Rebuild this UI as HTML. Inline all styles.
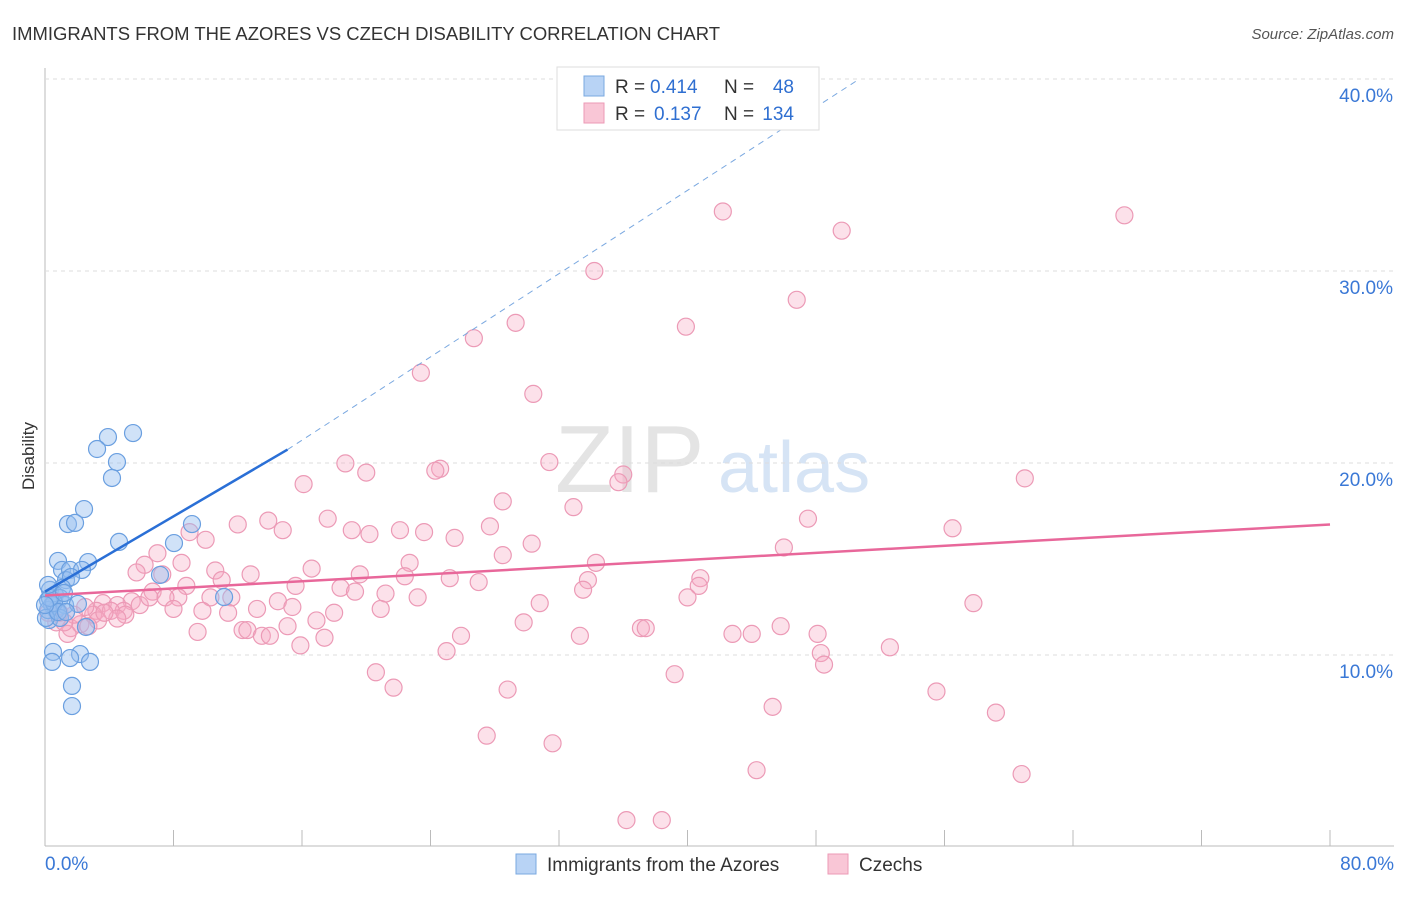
<!DOCTYPE html>
<html><head><meta charset="utf-8"><style>
body{margin:0;background:#fff;font-family:"Liberation Sans",sans-serif;}
svg text{font-family:"Liberation Sans",sans-serif;}
</style></head><body>
<svg id="c" width="1406" height="892">
<text x="12" y="40" font-size="18" fill="#333" textLength="708" lengthAdjust="spacingAndGlyphs">IMMIGRANTS FROM THE AZORES VS CZECH DISABILITY CORRELATION CHART</text>
<text x="1394" y="39" font-size="15" fill="#555" font-style="italic" text-anchor="end">Source: ZipAtlas.com</text>
<text x="34" y="456" font-size="17" fill="#333" transform="rotate(-90 34 456)" text-anchor="middle">Disability</text>
<g><text x="555" y="492" font-size="96" fill="#e4e4e4" font-family="Liberation Serif">ZIP</text><text x="718" y="492" font-size="72" fill="#d6e4f5">atlas</text></g>
<g id="grid"></g><g id="pts"></g><g id="lines"></g>
<g>
<rect x="557" y="67" width="262" height="63" fill="#fff" stroke="#ddd"/>
<rect x="584" y="76" width="20" height="20" fill="#b8d3f5" stroke="#7aa8e0"/>
<rect x="584" y="103" width="20" height="20" fill="#f9c6d6" stroke="#ec9ab6"/>
<text x="615" y="93" font-size="19" fill="#333">R =</text>
<text x="650" y="93" font-size="19" fill="#2f6fd1">0.414</text>
<text x="724" y="93" font-size="19" fill="#333">N =</text>
<text x="794" y="93" font-size="19" fill="#2f6fd1" text-anchor="end">48</text>
<text x="615" y="120" font-size="19" fill="#333">R =</text>
<text x="654" y="120" font-size="19" fill="#2f6fd1">0.137</text>
<text x="724" y="120" font-size="19" fill="#333">N =</text>
<text x="794" y="120" font-size="19" fill="#2f6fd1" text-anchor="end">134</text>
</g>
<g>
<rect x="516" y="854" width="20" height="20" fill="#b8d3f5" stroke="#7aa8e0"/>
<text x="547" y="871" font-size="19" fill="#333">Immigrants from the Azores</text>
<rect x="828" y="854" width="20" height="20" fill="#f9c6d6" stroke="#ec9ab6"/>
<text x="859" y="871" font-size="19" fill="#333">Czechs</text>
</g>
</svg>
<script>
const yTicks=[10,20,30,40];
const xTickLabels=["0.0%","80.0%"];
const blueX=[5.48,3.92,3.24,4.48,4.17,2.43,1.43,1.87,4.61,8.03,9.15,0.81,2.68,1.06,1.56,2.3,1.31,1.62,1.06,0.31,0.62,0.93,0.19,0.44,0.68,1.25,2.05,0.25,0.93,2.55,11.15,7.16,0.5,2.18,1.56,2.8,0.44,1.68,1.68,0.19,0.06,0.56,0.81,0.31,1.18,0,0.19,1.31];
const blueY=[21.56,21.35,20.73,20.05,19.22,17.6,16.82,16.88,15.89,15.83,16.82,14.9,14.84,14.43,14.43,14.43,13.9,14.06,13.49,13.39,13.13,12.97,12.86,12.6,12.34,12.6,12.66,11.82,11.93,11.46,13.02,14.17,10.16,10.05,9.84,9.64,9.64,8.39,7.34,12.34,11.93,12.71,12.24,12.97,13.23,12.6,13.65,12.24];
const pinkX=[42.2,67.2,49.6,34.2,46.8,29.3,39.9,26.7,23.4,30.4,18.7,31.4,20.0,24.6,24.3,36.0,35.7,61.0,16.1,28.5,32.9,12.0,13.9,17.6,47.5,56.5,27.7,14.8,19.1,20.2,22.1,23.6,25.5,30.3,10.0,9.0,7.0,46.0,28.5,6.2,8.5,22.7,34.3,16.6,10.6,5.7,12.8,7.3,19.6,22.4,25.2,27.0,33.8,40.8,11.0,8.8,15.6,18.4,40.7,33.5,6.7,8.3,10.3,11.6,14.5,19.3,21.2,23.2,40.0,7.5,5.4,3.6,4.5,4.9,3.2,4.1,8.0,9.8,11.4,13.2,15.4,18.0,20.9,30.8,57.8,3.0,5.0,4.5,3.3,16.9,15.1,29.8,0.7,1.6,2.2,2.7,1.4,9.5,12.3,12.6,13.5,14.0,17.4,25.9,33.3,37.1,37.4,42.8,44.0,45.8,48.1,15.9,25.0,48.3,52.6,48.5,20.6,39.2,21.7,28.8,55.5,45.3,59.2,27.5,31.6,44.3,60.8,36.2,38.4,0.9,1.8,0.2,1.2,2.5,3.7,5.9,6.5];
const pinkY=[33.1,32.9,32.1,30.0,28.5,27.3,27.1,26.5,24.7,23.6,19.98,20.05,19.5,19.7,19.6,19.4,19.0,19.2,18.9,18.0,17.7,16.8,17.0,17.1,17.1,16.6,16.7,16.5,16.5,16.3,16.5,16.4,16.1,15.8,16.0,16.4,15.3,15.6,15.2,14.7,14.8,14.8,14.8,14.5,14.4,14.3,14.2,14.2,14.2,14.1,14.0,13.8,13.9,14.0,13.9,13.6,13.6,13.5,13.6,13.4,13.3,13.0,13.0,13.0,12.8,13.3,13.2,13.0,13.0,13.0,12.8,12.7,12.6,12.3,12.3,12.3,12.4,12.3,12.2,12.4,12.5,12.2,12.4,12.7,12.7,12.1,12.1,11.9,11.8,11.8,11.5,11.7,11.7,11.4,11.6,11.5,11.1,11.2,11.3,11.3,11.0,11.0,10.9,11.0,11.0,11.4,11.4,11.1,11.1,11.5,11.1,10.5,10.2,10.1,10.4,9.5,9.1,9.0,8.3,8.2,8.1,7.3,7.0,5.8,5.4,4.0,3.8,1.4,1.4,12.2,12.1,12.2,11.7,12.5,12.2,12.6,13.0];
const blueTrend=[[0,13.3],[15.1,20.7]];
const blueDash=[[15.1,20.7],[50.7,40]];
const pinkTrend=[[0,13.1],[80,16.8]];
const X=v=>45+v*1285/80, Y=v=>847-v*19.2;
const NS="http://www.w3.org/2000/svg";
function mk(p,t,a){const e=document.createElementNS(NS,t);for(const k in a)e.setAttribute(k,a[k]);p.appendChild(e);return e;}
const grid=document.getElementById('grid');
mk(grid,'line',{x1:45,y1:68,x2:45,y2:846,stroke:'#bbb'});
mk(grid,'line',{x1:45,y1:846,x2:1394,y2:846,stroke:'#bbb'});
for(const t of yTicks){
 const l=mk(grid,'line',{x1:45,y1:Y(t),x2:1394,y2:Y(t),stroke:'#ddd','stroke-dasharray':'4,4'});
 
 
 const tx=mk(grid,'text',{x:1393,y:Y(t)+23,'font-size':19,fill:'#3a78d6','text-anchor':'end'});
 tx.textContent=t.toFixed(1)+'%';
 
 
}
for(let i=1;i<=10;i++){mk(grid,'line',{x1:X(i*8),y1:830,x2:X(i*8),y2:846,stroke:'#bbb'});}
const xl0=mk(grid,'text',{x:45,y:870,'font-size':19,fill:'#3a78d6'});xl0.textContent=xTickLabels[0];


const xl1=mk(grid,'text',{x:1394,y:870,'font-size':19,fill:'#3a78d6','text-anchor':'end'});xl1.textContent=xTickLabels[1];


const pts=document.getElementById('pts');
pinkX.forEach((v,i)=>{const c=mk(pts,'circle',{cx:X(v),cy:Y(pinkY[i]),r:8.5,fill:'rgba(246,170,196,0.35)',stroke:'#ec9ab6','stroke-width':1.2});
 
 });
blueX.forEach((v,i)=>{const c=mk(pts,'circle',{cx:X(v),cy:Y(blueY[i]),r:8.5,fill:'rgba(150,190,240,0.45)',stroke:'#6a9fe0','stroke-width':1.2});
 
 });
const ln=document.getElementById('lines');
const bt=mk(ln,'line',{x1:X(blueTrend[0][0]),y1:Y(blueTrend[0][1]),x2:X(blueTrend[1][0]),y2:Y(blueTrend[1][1]),stroke:'#2a6fd6','stroke-width':2.5});


const bd=mk(ln,'line',{x1:X(blueDash[0][0]),y1:Y(blueDash[0][1]),x2:X(blueDash[1][0]),y2:Y(blueDash[1][1]),stroke:'#7aa8e0','stroke-width':1,'stroke-dasharray':'6,5'});


const pt=mk(ln,'line',{x1:X(pinkTrend[0][0]),y1:Y(pinkTrend[0][1]),x2:X(pinkTrend[1][0]),y2:Y(pinkTrend[1][1]),stroke:'#e8679a','stroke-width':2.5});


</script>
</body></html>
